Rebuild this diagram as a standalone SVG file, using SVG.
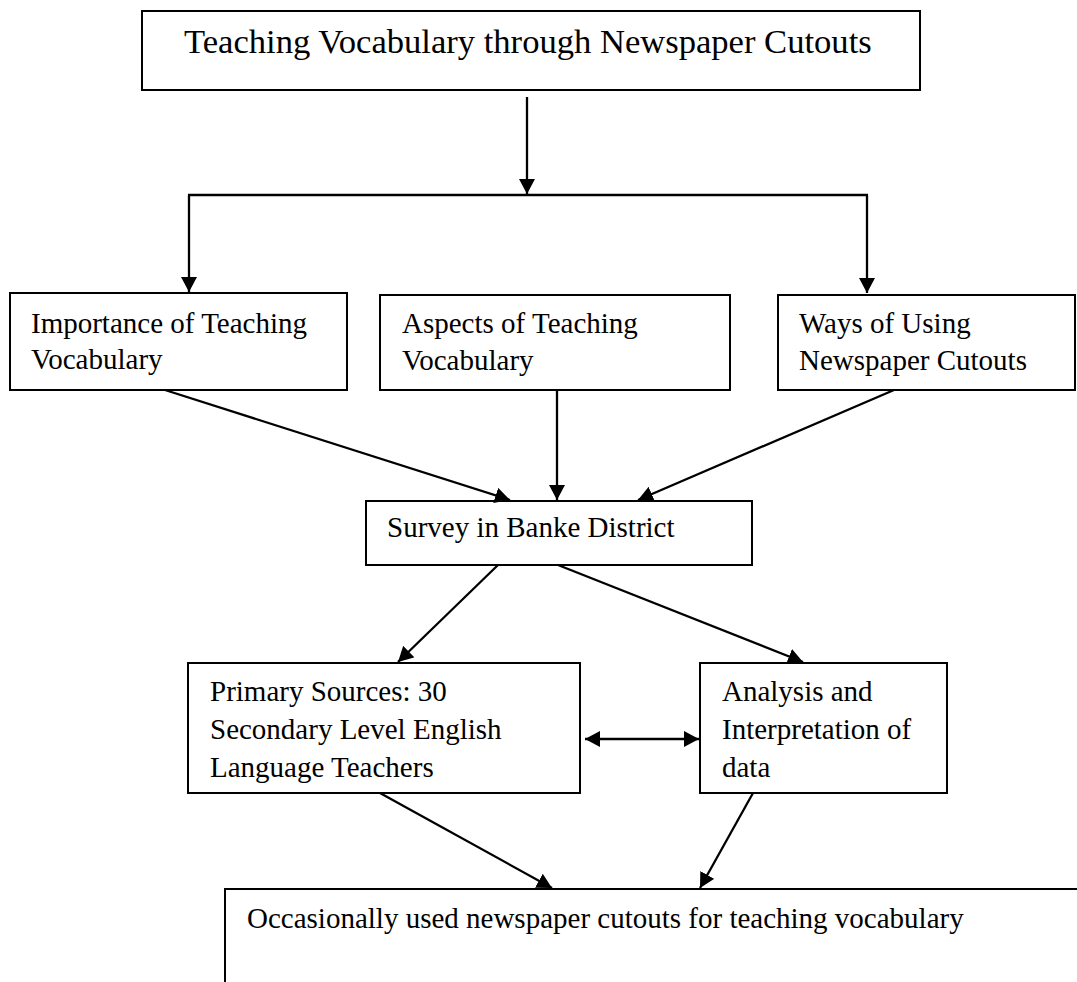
<svg xmlns="http://www.w3.org/2000/svg" width="1077" height="982" viewBox="0 0 1077 982">
  <style>
    .box { fill: #ffffff; stroke: #000000; stroke-width: 2; }
    .txt { font-family: "Liberation Serif", "Times New Roman", serif; font-size: 29px; fill: #000000; }
    .title { font-family: "Liberation Serif", "Times New Roman", serif; font-size: 34.6px; fill: #000000; }
    .conn { stroke: #000000; stroke-width: 2.3; fill: none; }
  </style>
  <defs>
    <marker id="arrow" markerUnits="userSpaceOnUse" markerWidth="16" markerHeight="16" refX="15" refY="8" orient="auto-start-reverse">
      <path d="M0,0 L15,8 L0,16 Z" fill="#000000"/>
    </marker>
  </defs>
  <rect width="1077" height="982" fill="#ffffff"/>

  <g id="node-title">
    <rect class="box" x="142" y="11" width="778" height="79"/>
    <text class="title" x="184" y="53">Teaching Vocabulary through Newspaper Cutouts</text>
  </g>

  <g id="node-importance">
    <rect class="box" x="10" y="293" width="337" height="97"/>
    <text class="txt" x="31" y="333">Importance of Teaching</text>
    <text class="txt" x="31" y="369">Vocabulary</text>
  </g>

  <g id="node-aspects">
    <rect class="box" x="380" y="295" width="350" height="95"/>
    <text class="txt" x="402" y="333">Aspects of Teaching</text>
    <text class="txt" x="402" y="370">Vocabulary</text>
  </g>

  <g id="node-ways">
    <rect class="box" x="778" y="295" width="297" height="95"/>
    <text class="txt" x="799" y="333">Ways of Using</text>
    <text class="txt" x="799" y="370">Newspaper Cutouts</text>
  </g>

  <g id="node-survey">
    <rect class="box" x="366" y="501" width="386" height="64"/>
    <text class="txt" x="387" y="537">Survey in Banke District</text>
  </g>

  <g id="node-primary">
    <rect class="box" x="188" y="663" width="392" height="130"/>
    <text class="txt" x="210" y="701">Primary Sources: 30</text>
    <text class="txt" x="210" y="739">Secondary Level English</text>
    <text class="txt" x="210" y="777">Language Teachers</text>
  </g>

  <g id="node-analysis">
    <rect class="box" x="700" y="663" width="247" height="130"/>
    <text class="txt" x="722" y="701">Analysis and</text>
    <text class="txt" x="722" y="739">Interpretation of</text>
    <text class="txt" x="722" y="777">data</text>
  </g>

  <g id="node-result">
    <path class="box" d="M225,995 V889 H1085"/>
    <text class="txt" x="247" y="928">Occasionally used newspaper cutouts for teaching vocabulary</text>
  </g>

  <g id="connectors">
    <line class="conn" x1="527" y1="97" x2="527" y2="194" marker-end="url(#arrow)"/>
    <line class="conn" x1="188" y1="195" x2="868" y2="195"/>
    <line class="conn" x1="189" y1="195" x2="189" y2="292" marker-end="url(#arrow)"/>
    <line class="conn" x1="867" y1="195" x2="867" y2="293" marker-end="url(#arrow)"/>

    <line class="conn" x1="165" y1="390" x2="510" y2="500" marker-end="url(#arrow)"/>
    <line class="conn" x1="557" y1="390" x2="557" y2="500" marker-end="url(#arrow)"/>
    <line class="conn" x1="894" y1="390" x2="638" y2="500" marker-end="url(#arrow)"/>

    <line class="conn" x1="498" y1="565" x2="398" y2="662" marker-end="url(#arrow)"/>
    <line class="conn" x1="558" y1="565" x2="803" y2="662" marker-end="url(#arrow)"/>

    <line class="conn" x1="585" y1="739" x2="699" y2="739" marker-start="url(#arrow)" marker-end="url(#arrow)"/>

    <line class="conn" x1="380" y1="793" x2="552" y2="888" marker-end="url(#arrow)"/>
    <line class="conn" x1="753" y1="793" x2="700" y2="888" marker-end="url(#arrow)"/>
  </g>
</svg>
